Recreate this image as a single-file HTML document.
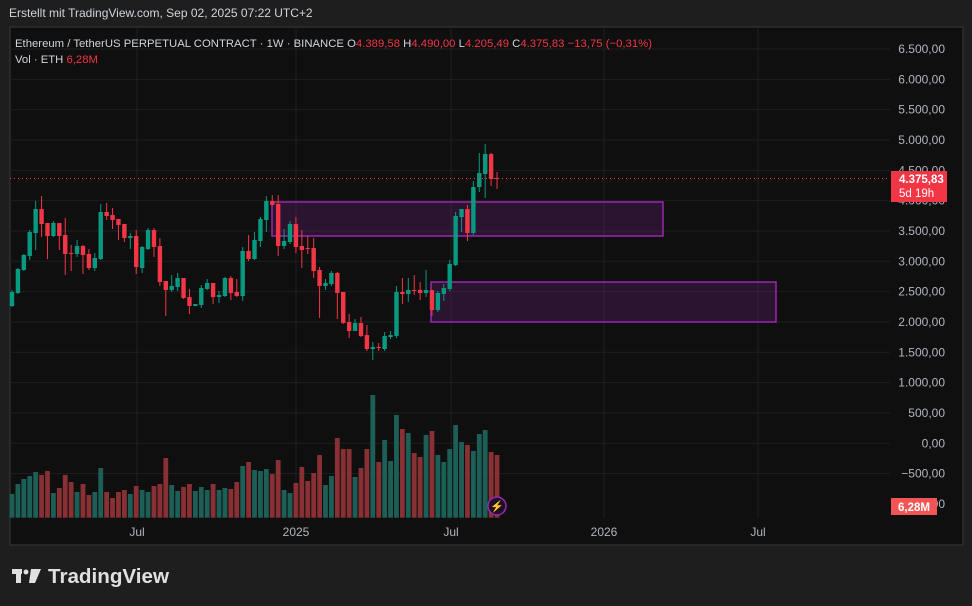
<!DOCTYPE html>
<html><head><meta charset="utf-8"><style>
body{margin:0;background:#1e1e1e;width:972px;height:606px;overflow:hidden;font-family:"Liberation Sans",sans-serif}
svg{position:absolute;left:0;top:0}
</style></head><body>
<svg id="s" width="972" height="606" xmlns="http://www.w3.org/2000/svg">
<rect width="972" height="606" fill="#1e1e1e"/>
<rect x="10" y="27" width="953" height="518" fill="#0f0f0f" stroke="#2e2e2e" stroke-width="1.5"/>
<g id="grid" stroke="#1f1f1f" stroke-width="1"></g>
<rect x="272" y="202" width="391" height="34" fill="rgba(156,39,176,0.2)" stroke="#9c27b0" stroke-width="1.5"/>
<rect x="431" y="282" width="345" height="40" fill="rgba(156,39,176,0.2)" stroke="#9c27b0" stroke-width="1.5"/>
<g id="vol"></g>
<g id="c"></g>
<line x1="10" y1="178.5" x2="890" y2="178.5" stroke="#f23645" stroke-width="1" stroke-dasharray="1,3"/>
<g id="ax" font-size="12" fill="#b2b5be" text-anchor="end"></g>
<rect x="891" y="171" width="56" height="31" fill="#f23645"/>
<text x="899" y="183" font-size="11.5" font-weight="bold" fill="#fff">4.375,83</text>
<text x="899" y="197" font-size="11.5" fill="#fff">5d 19h</text>
<text x="945" y="508" font-size="12" fill="#b2b5be" text-anchor="end">00</text>
<rect x="891" y="498" width="46" height="17" fill="#f25555"/>
<text x="898" y="511" font-size="11.5" font-weight="bold" fill="#fff">6,28M</text>
<circle cx="497" cy="506" r="9" fill="#1e1027" stroke="#9c27b0" stroke-width="1.5"/>
<text x="497" y="510" font-size="11" fill="#b05dd0" text-anchor="middle">⚡</text>
<g font-size="12" fill="#b2b5be" text-anchor="middle">
<text x="137" y="536">Jul</text><text x="296" y="536">2025</text><text x="451" y="536">Jul</text><text x="604" y="536">2026</text><text x="758" y="536">Jul</text></g>
<text x="9" y="17" font-size="12" fill="#d1d4dc">Erstellt mit TradingView.com, Sep 02, 2025 07:22 UTC+2</text>
<text x="15" y="47" font-size="11.3" fill="#d1d4dc" textLength="637" lengthAdjust="spacingAndGlyphs">Ethereum / TetherUS PERPETUAL CONTRACT · 1W · BINANCE  O<tspan fill="#f23645">4.389,58</tspan>  H<tspan fill="#f23645">4.490,00</tspan>  L<tspan fill="#f23645">4.205,49</tspan>  C<tspan fill="#f23645">4.375,83</tspan>  <tspan fill="#f23645">−13,75 (−0,31%)</tspan></text>
<text x="15" y="63" font-size="11.3" fill="#d1d4dc">Vol · ETH  <tspan fill="#f23645">6,28M</tspan></text>
<g fill="#e0e0e0"><rect x="12" y="569" width="10" height="5"/><rect x="16" y="569" width="5" height="14"/><circle cx="26" cy="572" r="2.5"/><polygon points="31,569 41,569 35,583 29,583"/></g>
<text x="48" y="583" font-size="20" font-weight="bold" fill="#e0e0e0" textLength="121" lengthAdjust="spacingAndGlyphs">TradingView</text>
</svg>
<script>
const C=[[306,292,290,307],[293,269,268,294],[270,255,254,271],[256,232,230,260],[233,209,201,250],[209,224,196,237],[223,236,223,259],[236,223,221,237],[223,236,223,250],[235,254,218,275],[253,254,245,271],[254,246,240,257],[246,255,245,274],[254,268,249,270],[268,258,253,271],[259,212,204,260],[212,216,203,220],[215,220,208,229],[219,225,219,240],[224,238,224,242],[238,236,233,249],[236,267,230,274],[268,247,246,273],[249,230,228,250],[230,247,228,257],[246,282,238,286],[281,290,281,316],[290,286,275,292],[287,278,273,291],[278,298,278,299],[297,306,289,314],[306,304,304,306],[305,288,285,308],[289,283,279,290],[283,297,283,304],[297,295,291,303],[296,278,277,297],[278,293,276,300],[292,296,279,297],[296,251,247,301],[251,259,235,261],[259,240,232,260],[241,219,217,247],[220,201,196,232],[201,205,195,206],[204,246,195,256],[246,241,229,249],[242,224,221,244],[224,247,217,253],[246,250,230,268],[248,248,236,254],[248,271,238,278],[270,286,267,318],[286,283,279,290],[284,273,271,286],[273,293,272,319],[292,323,292,324],[322,331,314,338],[331,323,319,331],[323,336,317,337],[335,349,325,351],[349,347,342,360],[347,348,343,351],[349,336,332,351],[337,335,331,339],[336,292,286,338],[292,294,278,304],[294,290,278,302],[290,291,275,295],[290,293,282,300],[293,290,270,297],[290,310,290,316],[310,293,291,312],[294,288,284,301],[289,264,260,291],[265,216,212,266],[217,209,209,232],[209,233,205,241],[233,187,181,235],[187,173,153,192],[174,154,144,198],[154,179,153,186],[178,179,172,189]];
const V=[342,312,297,288,276,285,273,339,324,285,306,336,312,345,336,264,336,354,336,330,342,318,330,336,318,312,234,315,333,321,312,333,321,330,312,330,324,327,306,258,246,270,273,267,282,240,330,339,309,261,303,279,225,315,288,174,207,207,291,264,207,45,246,180,243,105,147,159,219,231,165,153,225,246,207,135,186,195,213,162,150,216,225];
const ns="http://www.w3.org/2000/svg";
function el(p,t,a){const e=document.createElementNS(ns,t);for(const k in a)e.setAttribute(k,a[k]);document.getElementById(p).appendChild(e);return e;}
const labels=["6.500,00","6.000,00","5.500,00","5.000,00","4.500,00","4.000,00","3.500,00","3.000,00","2.500,00","2.000,00","1.500,00","1.000,00","500,00","0,00","−500,00"];
labels.forEach((l,i)=>{const y=49+i*30.33;el("grid","line",{x1:10,x2:890,y1:y,y2:y});const t=el("ax","text",{x:945,y:y+4});t.textContent=l;});
[137,296,451,604,758].forEach(x=>el("grid","line",{x1:x,x2:x,y1:27,y2:518}));
C.forEach((c,i)=>{const x=12+i*5.915;const up=c[1]<c[0];const col=up?"#089981":"#f23645";
el("c","line",{x1:x,x2:x,y1:c[2],y2:c[3],stroke:col,"stroke-width":1});
const t=Math.min(c[0],c[1]),h=Math.max(1,Math.abs(c[0]-c[1]));el("c","rect",{x:x-2.2,y:t,width:4.4,height:h,fill:col});
const vt=i==82?455:380+V[i]/3;el("vol","rect",{x:x-2.4,y:vt,width:4.8,height:517.7-vt,fill:up?"#1d5f56":"#883034"});});
</script>
</body></html>
